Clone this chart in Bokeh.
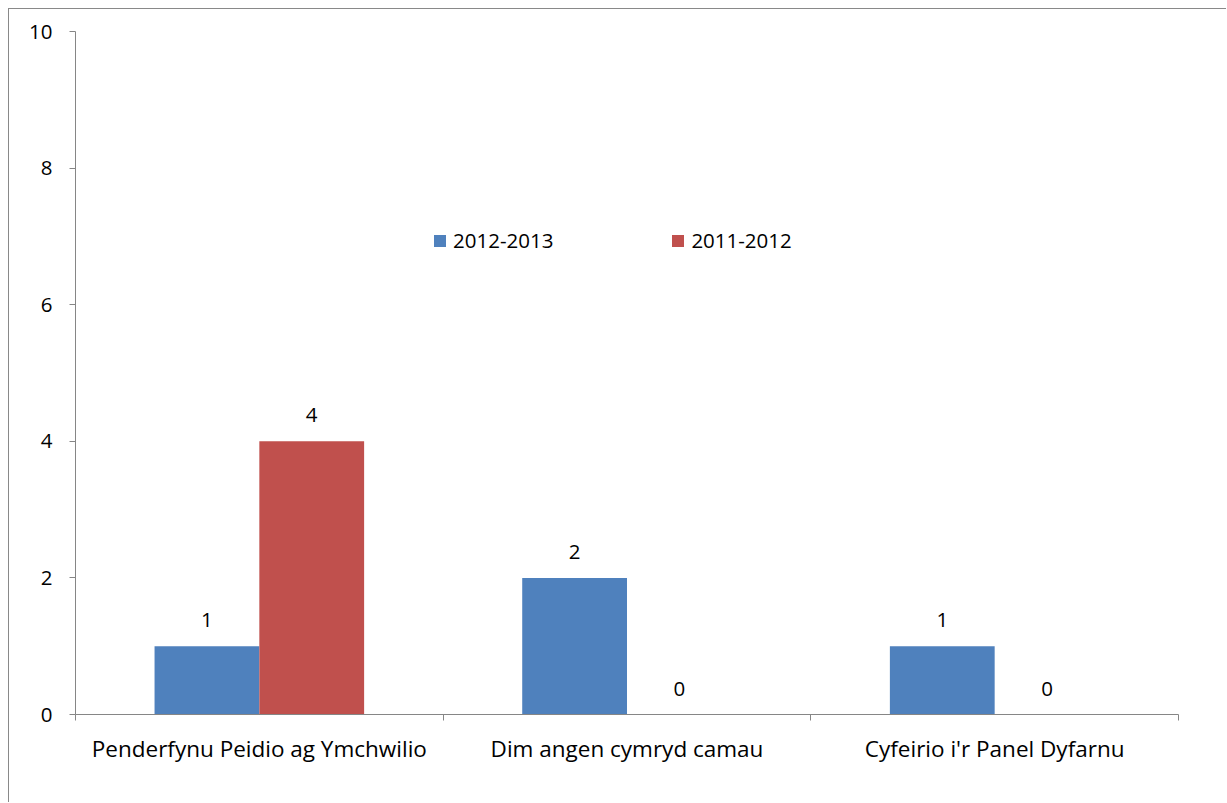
from bokeh.plotting import figure
from bokeh.models import (Range1d, FixedTicker, ColumnDataSource, LabelSet, Legend, LegendItem)
from bokeh.core.properties import value
from bokeh.embed import file_html
from bokeh.resources import INLINE

categories = ["Penderfynu Peidio ag Ymchwilio", "Dim angen cymryd camau", "Cyfeirio i'r Panel Dyfarnu"]
series_names = ["2012-2013", "2011-2012"]
values_2012_2013 = [1, 2, 1]
values_2011_2012 = [4, 0, 0]
y_ticks = [0, 2, 4, 6, 8, 10]

FONT = "Open Sans"
FS = "20.5px"
FS_CAT = "22.5px"
BLUE = "#4F81BD"
RED = "#C0504D"
AXIS = "#868686"

bar_w = 0.285
idx = list(range(len(categories)))
x_blue = [i + 0.5 - bar_w / 2 for i in idx]
x_red = [i + 0.5 + bar_w / 2 for i in idx]

p = figure(width=1218, height=794, output_backend="svg", toolbar_location=None,
           x_range=Range1d(0, 3), y_range=Range1d(0, 10),
           min_border_left=66, min_border_top=22, min_border_bottom=89, min_border_right=49)
p.styles = {"margin-left": "8px", "margin-top": "8px",
            "border-left": "1px solid #898989", "border-top": "1px solid #898989"}
p.outline_line_color = None
p.xgrid.visible = False
p.ygrid.visible = False
p.background_fill_color = "white"
p.border_fill_color = "white"

src_b = ColumnDataSource(dict(x=x_blue, top=values_2012_2013, lab=[str(v) for v in values_2012_2013]))
src_r = ColumnDataSource(dict(x=x_red, top=values_2011_2012, lab=[str(v) for v in values_2011_2012]))
rb = p.vbar(x="x", top="top", width=bar_w, source=src_b, fill_color=BLUE, line_color=None)
rr = p.vbar(x="x", top="top", width=bar_w, source=src_r, fill_color=RED, line_color=None)

for src in (src_b, src_r):
    p.add_layout(LabelSet(x="x", y="top", text="lab", source=src, y_offset=19,
                          text_align="center", text_baseline="bottom",
                          text_font=value(FONT), text_font_size=value(FS), text_color="black"))

# x axis
p.xaxis.ticker = FixedTicker(ticks=[i + 0.5 for i in idx], minor_ticks=[0, 1, 2, 3])
p.xaxis.major_label_overrides = {i + 0.5: c for i, c in zip(idx, categories)}
p.xaxis.axis_line_color = AXIS
p.xaxis.major_tick_line_color = None
p.xaxis.major_tick_out = 0
p.xaxis.major_tick_in = 0
p.xaxis.minor_tick_line_color = AXIS
p.xaxis.minor_tick_out = 6
p.xaxis.minor_tick_in = 0
p.xaxis.major_label_standoff = 12
p.xaxis.major_label_text_font = FONT
p.xaxis.major_label_text_font_size = FS_CAT
p.xaxis.major_label_text_color = "black"

# y axis
p.yaxis.ticker = FixedTicker(ticks=y_ticks, minor_ticks=[])
p.yaxis.axis_line_color = AXIS
p.yaxis.major_tick_line_color = AXIS
p.yaxis.major_tick_out = 6
p.yaxis.major_tick_in = 0
p.yaxis.minor_tick_line_color = None
p.yaxis.major_label_standoff = 17
p.yaxis.major_label_text_font = FONT
p.yaxis.major_label_text_font_size = FS
p.yaxis.major_label_text_color = "black"

legend = Legend(items=[LegendItem(label=series_names[0], renderers=[rb]),
                       LegendItem(label=series_names[1], renderers=[rr])],
                orientation="horizontal", location=(357, 460),
                glyph_width=15, glyph_height=15, label_standoff=6, spacing=117,
                padding=0, margin=0, border_line_color=None, background_fill_alpha=0,
                label_text_font=FONT, label_text_font_size=FS, label_text_color="black")
p.add_layout(legend, "center")

open("out.html", "w").write(file_html(p, INLINE))
